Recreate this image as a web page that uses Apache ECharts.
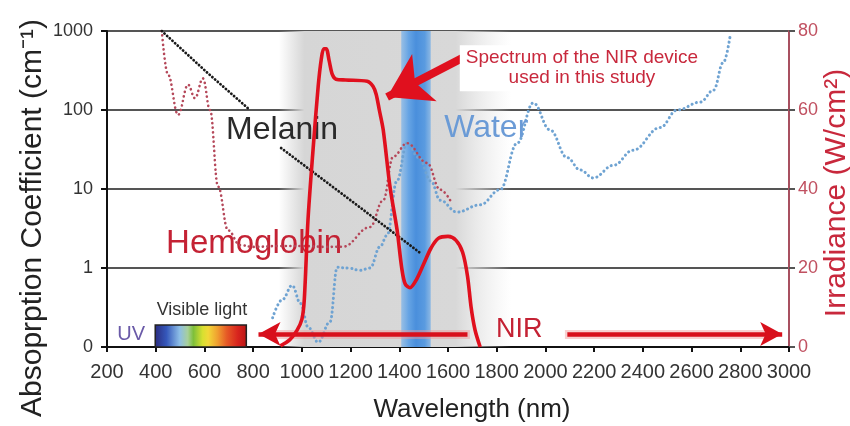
<!DOCTYPE html>
<html>
<head>
<meta charset="utf-8">
<script src="https://cdn.jsdelivr.net/npm/echarts@6/dist/echarts.min.js"></script>
<style>html,body{margin:0;padding:0;background:#fff}#c{width:850px;height:426px}</style>
</head>
<body>
<div id="c"></div>
<script>
// ---- data ----
var xTicks = [200,400,600,800,1000,1200,1400,1600,1800,2000,2200,2400,2600,2800,3000];
var leftTickLabels = ['0','1','10','100','1000'];
var rightTickLabels = ['0','20','40','60','80'];

// Absorption coefficients (cm^-1) vs wavelength (nm)
var melaninWl  = [425, 610, 787, null, 915, 1200, 1486];
var melaninVal = [1000, 300, 100, null, 33, 7.2, 1.55];

var hemoWl  = [425, 450, 492, 533, 561, 594, 623, 656, 697, 746, 800, 900, 1000, 1100, 1169, 1280, 1334, 1375, 1432, 1514, 1568, 1609];
var hemoVal = [1000, 282, 87, 209, 141, 251, 100, 10.7, 3.0, 1.95, 1.85, 1.9, 1.9, 1.85, 1.86, 3.3, 7.2, 25.7, 38, 21.4, 9.8, 7.2];

var waterWl  = [880, 920, 960, 995, 1026, 1067, 1116, 1145, 1190, 1239, 1280, 1321, 1350, 1390, 1432, 1480, 1530, 1568, 1637, 1732, 1814, 1884, 1950, 2019, 2089, 2143, 2196, 2280, 2360, 2471, 2541, 2636, 2690, 2730, 2760];
var waterVal = [0.37, 0.6, 0.78, 0.55, 0.25, 0.06, 0.32, 1.02, 1.0, 0.97, 1.0, 1.86, 2.6, 12.6, 38, 25, 12.6, 7.2, 5.1, 6.3, 9.8, 38, 123, 56, 25, 17.4, 13.8, 20, 31, 60, 100, 126, 178, 398, 933];

// NIR device irradiance (W/cm^2)
var nirWl  = [912, 950, 980, 1000, 1010, 1025, 1046, 1067, 1080, 1090, 1100, 1112, 1125, 1140, 1180, 1268, 1292, 1305, 1318, 1334, 1362, 1391, 1410, 1424, 1444, 1470, 1500, 1530, 1560, 1600, 1633, 1660, 1680, 1695, 1711, 1732];
var nirVal = [0.3, 1.8, 4.2, 7, 12, 32, 50, 66, 73, 75.5, 75.5, 72.5, 69, 67.8, 67.6, 67.3, 66, 64, 60, 55, 40.5, 29.6, 20, 16, 15, 17, 21, 25, 27.5, 28, 27, 24, 18, 10, 4.3, 0];

// ---- helpers ----
// left axis: 0..1 linear, then one decade per unit
function t(v){ return v <= 1 ? v : 1 + Math.log10(v); }
function pairs(xs, ys, tf){
  return xs.map(function(x,i){ return x === null ? [null,null] : [x, tf ? tf(ys[i]) : ys[i]]; });
}
var FONT = '"Liberation Sans", Arial, sans-serif';

var chart = echarts.init(document.getElementById('c'), null, {renderer:'canvas'});

function labelPoint(coord, text, color, size, extra){
  var lab = Object.assign({show:true, position:'inside', formatter:text, color:color, fontSize:size, fontFamily:FONT}, extra||{});
  return {coord:coord, symbol:'circle', symbolSize:0, itemStyle:{color:'transparent'}, label:lab};
}
function halo(a, b){
  return [{coord:a, symbol:'none', lineStyle:{color:'rgba(240,150,150,0.45)', width:9, type:'solid'}},
          {coord:b, symbol:'none'}];
}

var option = {
  backgroundColor:'#fff',
  animation:false,
  grid:{left:107, right:61, top:31, bottom:79, containLabel:false, outerBoundsMode:'none'},
  graphic:[
    {type:'text', x:33, y:218, rotation:Math.PI/2, silent:true,
     style:{text:'Absoprption Coefficient (cm\u207B\u00B9)', font:'30px ' + FONT, fill:'#222', textAlign:'center', textVerticalAlign:'middle'}},
    {type:'text', x:837, y:193, rotation:Math.PI/2, silent:true,
     style:{text:'Irradiance (W/cm\u00B2)', font:'30px ' + FONT, fill:'#c8283c', textAlign:'center', textVerticalAlign:'middle'}},
    {type:'text', x:472, y:410, silent:true,
     style:{text:'Wavelength (nm)', font:'26px ' + FONT, fill:'#222', textAlign:'center', textVerticalAlign:'middle'}}
  ],
  xAxis:{
    type:'value', min:200, max:3000, interval:200,
    axisLine:{lineStyle:{color:'#111', width:2}},
    axisTick:{show:true, length:5, lineStyle:{color:'#111', width:2}},
    axisLabel:{color:'#333', fontSize:20, fontFamily:FONT, margin:15, interval:0,
      showMinLabel:true, showMaxLabel:true, hideOverlap:false,
      formatter:function(v){ return String(v); }},
    splitLine:{show:false}
  },
  yAxis:[{
    type:'value', min:0, max:4, interval:1, position:'left',
    axisLine:{show:true, lineStyle:{color:'#111', width:2}},
    axisTick:{show:true, length:6, lineStyle:{color:'#111', width:2}},
    axisLabel:{color:'#333', fontSize:18, fontFamily:FONT, margin:14,
      formatter:function(v){ return leftTickLabels[v]; }},
    splitLine:{show:true, lineStyle:{color:'#555', width:1.8}}
  },{
    type:'value', min:0, max:80, interval:20, position:'right',
    axisLine:{show:true, lineStyle:{color:'#a85060', width:2}},
    axisTick:{show:true, length:6, lineStyle:{color:'#555', width:2}},
    axisLabel:{color:'#c05060', fontSize:18, fontFamily:FONT, margin:9,
      formatter:function(v){ return rightTickLabels[v/20]; }},
    splitLine:{show:false}
  }],
  series:[
    { // background bands (below grid lines)
      name:'bands', type:'line', data:[], z:-1, silent:true, symbol:'none',
      markArea:{silent:true, data:[
        [{xAxis:905, yAxis:0, itemStyle:{color:new echarts.graphic.LinearGradient(0,0,1,0,[
            {offset:0, color:'rgba(214,214,214,0)'},
            {offset:0.11, color:'rgba(214,214,214,1)'},
            {offset:0.76, color:'rgba(216,216,216,1)'},
            {offset:1, color:'rgba(230,230,230,0)'}])}},
         {xAxis:1860, yAxis:4}],
        [{xAxis:1408, yAxis:0, itemStyle:{color:new echarts.graphic.LinearGradient(0,0,1,0,[
            {offset:0, color:'rgba(130,182,232,0.75)'},
            {offset:0.25, color:'#66a4e4'},
            {offset:0.5, color:'#4a8fdc'},
            {offset:0.8, color:'#5a9be0'},
            {offset:1, color:'rgba(120,175,230,0.8)'}])}},
         {xAxis:1529, yAxis:4}]
      ]}
    },
    { // visible light bar
      name:'visible', type:'line', data:[], z:3, silent:true, symbol:'none',
      markArea:{silent:true, data:[
        [{xAxis:398, yAxis:0, itemStyle:{borderColor:'#222', borderWidth:1.5, color:new echarts.graphic.LinearGradient(0,0,1,0,[
            {offset:0, color:'#2a2a7c'},
            {offset:0.13, color:'#3558bb'},
            {offset:0.27, color:'#8cbde6'},
            {offset:0.36, color:'#a8d09a'},
            {offset:0.42, color:'#7dbf3a'},
            {offset:0.52, color:'#d8e030'},
            {offset:0.58, color:'#f2d838'},
            {offset:0.68, color:'#f0a030'},
            {offset:0.78, color:'#e65a26'},
            {offset:0.9, color:'#d8241e'},
            {offset:1, color:'#b81414'}])}},
         {xAxis:772, yAxis:0.28}]
      ]}
    },
    {
      name:'Water', type:'line', yAxisIndex:0, z:4, symbol:'none', smooth:0.4, smoothMonotone:'x',
      data:pairs(waterWl, waterVal, t),
      lineStyle:{color:'#6fa3d2', width:3, type:[0.1,4.5], cap:'round'}
    },
    {
      name:'Hemoglobin', type:'line', yAxisIndex:0, z:5, symbol:'none', smooth:0.4, smoothMonotone:'x',
      data:pairs(hemoWl, hemoVal, t),
      lineStyle:{color:'#b5485a', width:2.6, type:[0.1,4.5], cap:'round'}
    },
    {
      name:'Melanin', type:'line', yAxisIndex:0, z:6, symbol:'none', connectNulls:false,
      data:pairs(melaninWl, melaninVal, t),
      lineStyle:{color:'#1a1a1a', width:2.8, type:[0.1,3.5], cap:'round'}
    },
    {
      name:'NIR device', type:'line', yAxisIndex:1, z:8, symbol:'none', smooth:0.3,
      data:pairs(nirWl, nirVal),
      lineStyle:{color:'#e0101e', width:3.6, join:'round'}
    },
    { // arrows
      name:'arrows', type:'line', yAxisIndex:1, z:9, data:[], symbol:'none',
      markLine:{silent:true, animation:false, label:{show:false}, data:[
        halo([1690,3.3],[880,3.3]),
        halo([2080,3.3],[2900,3.3]),
        [{coord:[1680,3.3], symbol:'none', lineStyle:{color:'#d8101c', width:4.5, type:'solid'}},
         {coord:[822,3.3], symbol:'arrow', symbolSize:[18,22]}],
        [{coord:[2090,3.3], symbol:'none', lineStyle:{color:'#d8101c', width:4.5, type:'solid'}},
         {coord:[2972,3.3], symbol:'arrow', symbolSize:[18,22]}],
        [{coord:[1660,73.2], symbol:'none', lineStyle:{color:'#e0101e', width:8, type:'solid'}},
         {coord:[1350,63.3], symbol:'arrow', symbolSize:[40,42]}]
      ]}
    },
    { // text annotations
      name:'labels', type:'line', yAxisIndex:0, z:10, data:[], symbol:'none',
      markPoint:{silent:true, animation:false, data:[
        labelPoint([919, 2.75], 'Melanin', '#2a2a2a', 32),
        labelPoint([1757, 2.77], 'Water', '#6b9bd6', 32),
        labelPoint([804, 1.30], 'Hemoglobin', '#c42234', 33),
        labelPoint([590, 0.47], 'Visible light', '#333', 18),
        labelPoint([299, 0.16], 'UV', '#6a5aa8', 20),
        labelPoint([1893, 0.22], 'NIR', '#c42234', 27),
        labelPoint([2150, 3.53], 'Spectrum of the NIR device\nused in this study', '#c8283c', 19,
          {backgroundColor:'#fff', padding:[3,6], lineHeight:20, align:'center'})
      ]}
    }
  ]
};
chart.setOption(option);
</script>
</body>
</html>
